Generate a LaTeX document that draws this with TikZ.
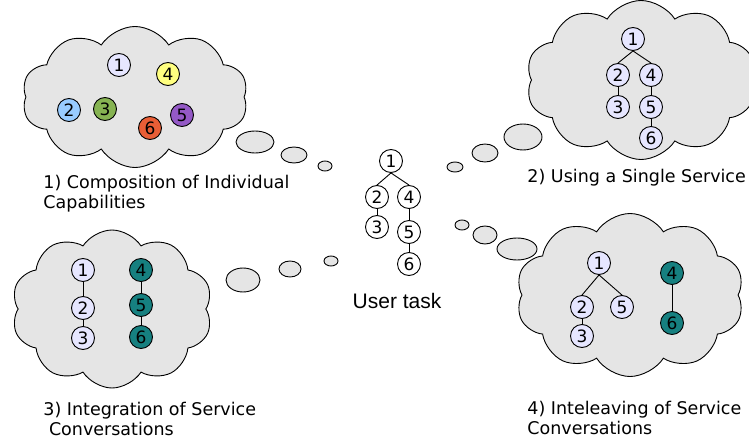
\documentclass[tikz,border=0pt]{standalone}
\usepackage{fontspec}
\setmainfont{DejaVu Sans}
\newfontfamily\taskfont{Liberation Sans}
\usepackage{xcolor}
\usepackage{tikz}
\usetikzlibrary{shapes.symbols,positioning}

\definecolor{lav}{HTML}{E6E6FF}
\definecolor{sun}{HTML}{FFFF80}
\definecolor{sky}{HTML}{99CCFF}
\definecolor{moss}{HTML}{86B352}
\definecolor{rust}{HTML}{E95E36}
\definecolor{plum}{HTML}{9459C6}
\definecolor{teal}{HTML}{168080}

\begin{document}
\begin{tikzpicture}[x=1pt,y=-1pt,line width=0.9pt]
\tikzstyle{thought}=[cloud,cloud puffs=10,cloud puff arc=115,cloud ignores aspect,draw,fill=gray!20,inner sep=0pt]
\tikzstyle{bubble}=[draw,fill=gray!20]
\tikzstyle{task}=[circle,draw,fill=lav,inner sep=0pt,minimum size=23pt,font=\fontsize{17}{17}\selectfont]
\tikzstyle{caption}=[align=left,anchor=base west,inner sep=0pt,font=\fontsize{17.5}{19.5}\selectfont]

\useasboundingbox (0,0) rectangle (749,441);

% clouds
\node[thought,minimum width=226pt,minimum height=141pt] (cloudA) at (135,97) {};
\node[thought,minimum width=230pt,minimum height=159pt] (cloudB) at (641,80) {};
\node[thought,minimum width=201pt,minimum height=158pt] (cloudC) at (112,309) {};
\node[thought,minimum width=228pt,minimum height=163pt] (cloudD) at (630,295) {};

% bubbles
\draw[bubble] (255,142) ellipse (19 and 11);
\draw[bubble] (294,155) ellipse (13 and 8);
\draw[bubble] (325,166) ellipse (7 and 5);
\draw[bubble] (523,137) ellipse (19 and 13);
\draw[bubble] (485,153) ellipse (13 and 9);
\draw[bubble] (455,167) ellipse (8 and 5);
\draw[bubble] (243,280) ellipse (17 and 12);
\draw[bubble] (290,269) ellipse (11 and 8);
\draw[bubble] (331,261) ellipse (7 and 5);
\draw[bubble] (517,249) ellipse (20 and 11);
\draw[bubble] (485,235) ellipse (12 and 9);
\draw[bubble] (462,225) ellipse (7 and 5);

% 1) individual capabilities
\node[task] (a1) at (119,65) {1};
\node[task,fill=sun] (a4) at (168,74) {4};
\node[task,fill=sky] (a2) at (69,110) {2};
\node[task,fill=moss] (a3) at (105,109) {3};
\node[task,fill=rust] (a6) at (150,128) {6};
\node[task,fill=plum] (a5) at (182,115) {5};

% 2) single service
\node[task] (b1) at (633,39) {1};
\node[task] (b2) at (618,75) {2};
\node[task] (b4) at (651,75) {4};
\node[task] (b3) at (618,107) {3};
\node[task] (b5) at (651,107) {5};
\node[task] (b6) at (651,138) {6};

\draw (b1.south) -- (b2.north);
\draw (b1.south) -- (b4.north);
\draw (b2) -- (b3);
\draw (b4) -- (b5);
\draw (b5) -- (b6);

% user task
\node[task,fill=white] (u1) at (391,161) {1};
\node[task,fill=white] (u2) at (377,197) {2};
\node[task,fill=white] (u4) at (409,197) {4};
\node[task,fill=white] (u3) at (377,227) {3};
\node[task,fill=white] (u5) at (409,232) {5};
\node[task,fill=white] (u6) at (409,264) {6};

\draw (u1.south) -- (u2.north);
\draw (u1.south) -- (u4.north);
\draw (u2) -- (u3);
\draw (u4) -- (u5);
\draw (u5) -- (u6);

\node[font=\taskfont\fontsize{21}{21}\selectfont] (usertask) at (397,301) {User task};

% 3) integration
\node[task] (c1) at (83,270) {1};
\node[task] (c2) at (83,308) {2};
\node[task] (c3) at (83,338) {3};
\node[task,fill=teal] (c4) at (141,270) {4};
\node[task,fill=teal] (c5) at (141,305) {5};
\node[task,fill=teal] (c6) at (141,337) {6};

\draw (c1) -- (c2);
\draw (c2) -- (c3);
\draw (c4) -- (c5);
\draw (c5) -- (c6);

% 4) interleaving
\node[task] (d1) at (599,263) {1};
\node[task] (d2) at (582,307) {2};
\node[task] (d5) at (622,307) {5};
\node[task] (d3) at (582,336) {3};
\node[task,fill=teal] (d4) at (672,273) {4};
\node[task,fill=teal] (d6) at (672,323) {6};

\draw (d1.south) -- (d2.north);
\draw (d1.south) -- (d5.north);
\draw (d2) -- (d3);
\draw (d4) -- (d6);

% captions
\node[caption] (capA) at (43,208) {1) Composition of Individual\\Capabilities};
\node[caption] (capB) at (527,182) {2) Using a Single Service};
\node[caption] (capC) at (43,435) {3) Integration of Service\\\ Conversations};
\node[caption] (capD) at (527,434) {4) Inteleaving of Service\\Conversations};
\end{tikzpicture}
\end{document}
